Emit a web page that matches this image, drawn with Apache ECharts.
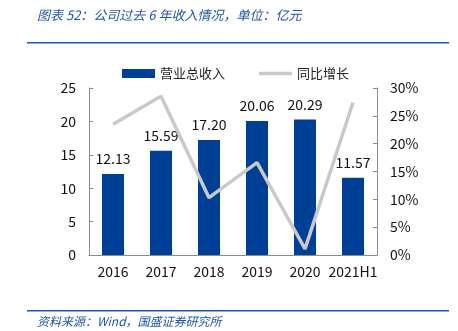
<!DOCTYPE html>
<html>
<head>
<meta charset="utf-8">
<script src="https://cdn.jsdelivr.net/npm/echarts@6/dist/echarts.min.js"></script>
<style>
  html, body { margin: 0; padding: 0; background: #fff; }
  #chart { width: 458px; height: 331px; }
</style>
</head>
<body>
<div id="chart"></div>
<script>
// Revenue (100 million CNY) and year-over-year growth
const categories = ['2016', '2017', '2018', '2019', '2020', '2021H1'];
const revenue = [12.13, 15.59, 17.20, 20.06, 20.29, 11.57];
const growthPct = [23.5, 28.5, 10.3, 16.6, 1.1, 27.4];
const leftTicks = [0, 5, 10, 15, 20, 25];
const rightTicks = [0, 5, 10, 15, 20, 25, 30];

const FONT = '"Noto Sans CJK SC", "Liberation Sans", sans-serif';
const BLUE = '#003f96';
const RULE = '#1f55a8';
const GRAY = '#c9c9c9';
const AXIS = '#8c8c8c';

const chart = echarts.init(document.getElementById('chart'), null, { renderer: 'canvas' });

chart.setOption({
  animation: false,
  textStyle: { fontFamily: FONT },
  graphic: [
    {
      type: 'text', left: 37, top: 9,
      style: {
        text: '图表 52：公司过去 6 年收入情况，单位：亿元',
        fill: RULE, fontSize: 13, fontStyle: 'italic', fontFamily: FONT
      }
    },
    { type: 'rect', shape: { x: 27, y: 42, width: 422, height: 1.5 }, style: { fill: RULE } },
    { type: 'rect', shape: { x: 27, y: 310, width: 422, height: 1.5 }, style: { fill: RULE } },
    {
      type: 'text', left: 37, top: 315,
      style: {
        text: '资料来源：Wind，国盛证券研究所',
        fill: RULE, fontSize: 12, fontStyle: 'italic', fontFamily: FONT
      }
    }
  ],
  legend: {
    top: 62,
    left: 117,
    itemGap: 34,
    itemWidth: 33,
    itemHeight: 9,
    textStyle: { fontSize: 13, color: '#222', fontFamily: FONT },
    data: [
      { name: '营业总收入', icon: 'rect' },
      { name: '同比增长', icon: 'path://M0,0H32V3.5H0Z', itemStyle: { color: GRAY } }
    ]
  },
  grid: { left: 89, right: 81, top: 88, bottom: 76, containLabel: false },
  xAxis: {
    type: 'category',
    data: categories,
    boundaryGap: true,
    axisLine: { lineStyle: { color: AXIS, width: 1 } },
    axisTick: { inside: true, length: 4, lineStyle: { color: AXIS } },
    axisLabel: { color: '#111', fontSize: 14, margin: 10, interval: 0, fontFamily: FONT }
  },
  yAxis: [
    {
      type: 'value', min: leftTicks[0], max: leftTicks[leftTicks.length - 1], interval: 5,
      axisLine: { show: true, lineStyle: { color: AXIS } },
      axisTick: { show: true, inside: true, length: 4, lineStyle: { color: AXIS } },
      splitLine: { show: false },
      axisLabel: { color: '#111', fontSize: 14, margin: 13, fontFamily: FONT }
    },
    {
      type: 'value', min: rightTicks[0], max: rightTicks[rightTicks.length - 1], interval: 5,
      position: 'right',
      axisLine: { show: true, lineStyle: { color: AXIS } },
      axisTick: { show: true, inside: true, length: 4, lineStyle: { color: AXIS } },
      splitLine: { show: false },
      axisLabel: { color: '#111', fontSize: 14, margin: 13, fontFamily: FONT, formatter: '{value}%' }
    }
  ],
  series: [
    {
      name: '营业总收入',
      type: 'bar',
      yAxisIndex: 0,
      data: revenue,
      barWidth: 22,
      itemStyle: { color: BLUE },
      label: {
        show: true, position: 'top', distance: 8,
        color: '#111', fontSize: 14, fontFamily: FONT,
        formatter: p => p.value.toFixed(2)
      },
      z: 2
    },
    {
      name: '同比增长',
      type: 'line',
      yAxisIndex: 1,
      data: growthPct,
      symbol: 'none',
      lineStyle: { color: GRAY, width: 3.5 },
      itemStyle: { color: GRAY },
      z: 3
    }
  ]
});
</script>
</body>
</html>
